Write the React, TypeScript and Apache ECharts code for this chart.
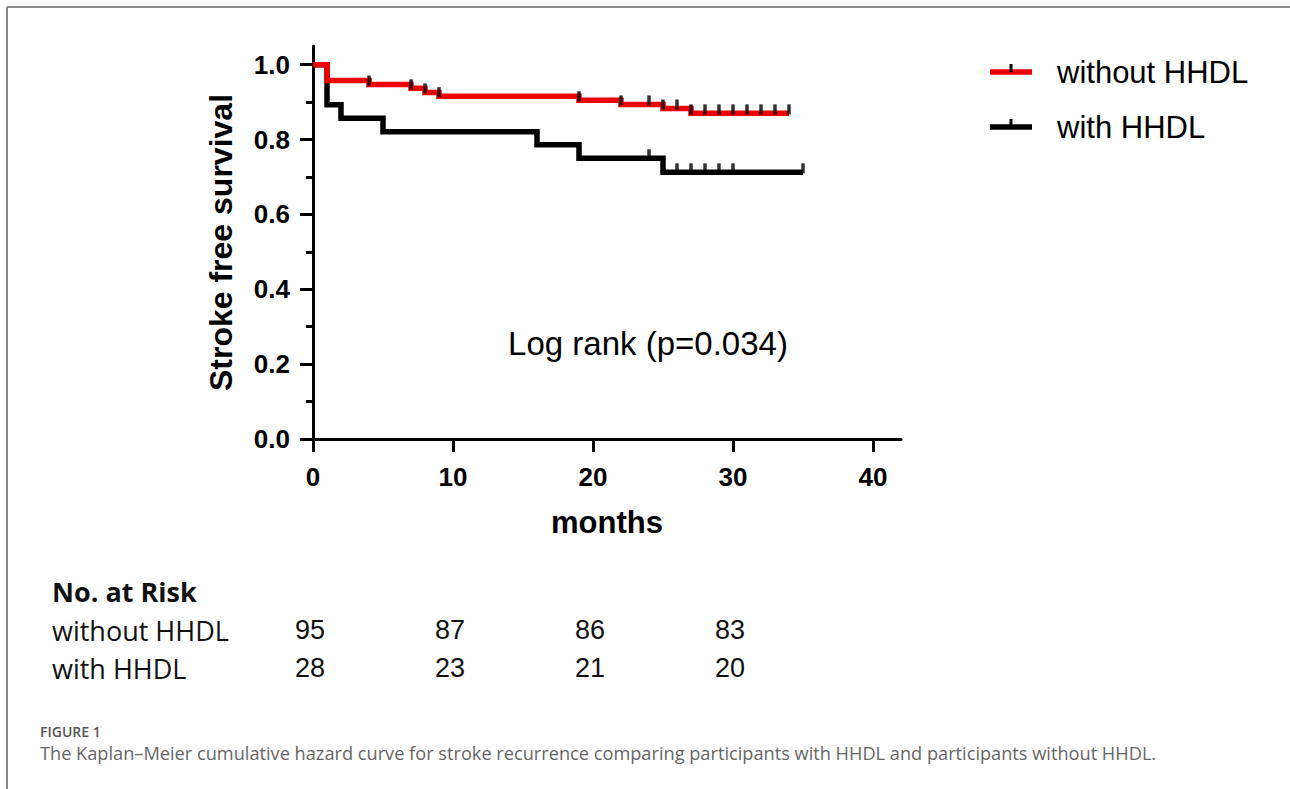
import React, { useEffect, useRef } from "react";
import * as echarts from "echarts";

// Kaplan–Meier step data (time in months, survival after the step)
const withoutTimes = [0, 1, 4, 7, 8, 9, 19, 22, 25, 27, 34];
const withoutSurv = [1, 0.958, 0.947, 0.937, 0.926, 0.916, 0.905, 0.894, 0.883, 0.87, 0.87];
const withoutCensored = [4, 7, 8, 9, 19, 22, 24, 25, 26, 27, 28, 29, 30, 31, 32, 33, 34];

const withTimes = [0, 1, 2, 5, 16, 19, 25, 35];
const withSurv = [1, 0.893, 0.857, 0.821, 0.786, 0.75, 0.7125, 0.7125];
const withCensored = [24, 26, 27, 28, 29, 30, 35];

const xTicks = [0, 10, 20, 30, 40];
const yTicks = [0, 0.2, 0.4, 0.6, 0.8, 1.0];
const yMinorTicks = [0.1, 0.3, 0.5, 0.7, 0.9];

const seriesNames = ["without HHDL", "with HHDL"];
const seriesColors = ["#ee0000", "#000000"];

const riskTimes = [0, 10, 20, 30];
const riskWithout = [95, 87, 86, 83];
const riskWith = [28, 23, 21, 20];

const axisFont = 'Arial, "Liberation Sans", sans-serif';
const tableFont = '"Open Sans", "Noto Sans", sans-serif';

function survAt(times: number[], surv: number[], t: number) {
  let v = surv[0];
  for (let i = 0; i < times.length; i++) if (times[i] <= t) v = surv[i];
  return v;
}

export default function App() {
  const ref = useRef<HTMLDivElement>(null);
  useEffect(() => {
    if (!ref.current) return;
    const chart = echarts.init(ref.current, undefined, { renderer: "svg" });
    const withoutData = withoutTimes.map((t, i) => [t, withoutSurv[i]]);
    const withData = withTimes.map((t, i) => [t, withSurv[i]]);
    const withoutCens = withoutCensored.map((t) => [t, survAt(withoutTimes, withoutSurv, t)]);
    const withCens = withCensored.map((t) => [t, survAt(withTimes, withSurv, t)]);

    chart.setOption({
      animation: false,
      backgroundColor: "#ffffff",
      grid: { left: 313, top: 46, width: 588, height: 393 },
      xAxis: {
        type: "value",
        min: 0,
        max: 42,
        name: "months",
        nameLocation: "middle",
        nameGap: 68,
        nameTextStyle: { fontSize: 31, fontWeight: "bold", color: "#000", fontFamily: axisFont },
        axisLine: { lineStyle: { color: "#000", width: 3 } },
        axisTick: { customValues: xTicks, length: 13, lineStyle: { color: "#000", width: 3 } },
        axisLabel: {
          customValues: xTicks,
          fontSize: 26,
          fontWeight: "bold",
          color: "#000",
          fontFamily: axisFont,
          margin: 25,
        },
        splitLine: { show: false },
      },
      yAxis: [
        {
          type: "value",
          min: 0,
          max: 1.05,
          name: "Stroke free survival",
          nameLocation: "middle",
          nameGap: 76,
          nameTextStyle: { fontSize: 32, fontWeight: "bold", color: "#000", fontFamily: axisFont },
          axisLine: { show: true, lineStyle: { color: "#000", width: 3 } },
          axisTick: { show: true, customValues: yTicks, length: 13, lineStyle: { color: "#000", width: 3 } },
          axisLabel: {
            customValues: yTicks,
            formatter: (v: number) => v.toFixed(1),
            fontSize: 26,
            fontWeight: "bold",
            color: "#000",
            fontFamily: axisFont,
            margin: 23,
          },
          splitLine: { show: false },
        },
        {
          type: "value",
          min: 0,
          max: 1.05,
          position: "left",
          offset: 0,
          axisLine: { show: false },
          axisTick: { show: true, customValues: yMinorTicks, length: 7, lineStyle: { color: "#000", width: 3 } },
          axisLabel: { show: false },
          splitLine: { show: false },
        },
      ],
      series: [
        {
          name: seriesNames[1],
          type: "line",
          step: "end",
          data: withData,
          symbol: "none",
          lineStyle: { color: seriesColors[1], width: 5.5, join: "miter" },
          z: 2,
        },
        {
          name: seriesNames[0],
          type: "line",
          step: "end",
          data: withoutData,
          symbol: "none",
          lineStyle: { color: seriesColors[0], width: 5.5, join: "miter" },
          z: 3,
        },
        {
          name: seriesNames[1] + " censored",
          type: "scatter",
          data: withCens,
          symbol: "rect",
          symbolSize: [3.5, 10],
          symbolOffset: [0, -4],
          itemStyle: { color: "#000" },
          z: 4,
        },
        {
          name: seriesNames[0] + " censored",
          type: "scatter",
          data: withoutCens,
          symbol: "rect",
          symbolSize: [3.5, 10],
          symbolOffset: [0, -4],
          itemStyle: { color: "#000" },
          z: 4,
        },
      ],
    });

    const xPix = riskTimes.map((t) => chart.convertToPixel({ xAxisIndex: 0 }, t) as number);
    const graphic: any[] = [];
    // frame
    graphic.push({ type: "line", shape: { x1: 7, y1: 7, x2: 1290, y2: 7 }, style: { stroke: "#8a8a8a", lineWidth: 2 } });
    graphic.push({ type: "line", shape: { x1: 7, y1: 7, x2: 7, y2: 789 }, style: { stroke: "#8a8a8a", lineWidth: 2 } });
    // legend
    seriesNames.forEach((name, i) => {
      const y = 72 + 55 * i;
      graphic.push({ type: "rect", shape: { x: 990, y: y - 2.75, width: 42, height: 5.5 }, style: { fill: seriesColors[i] } });
      graphic.push({ type: "rect", shape: { x: 1009.5, y: y - 8, width: 3, height: 8 }, style: { fill: "#000" } });
      graphic.push({
        type: "text",
        x: 1057,
        y,
        style: { text: name, fontSize: 31, fontFamily: axisFont, fill: "#000", verticalAlign: "middle", align: "left" },
      });
    });
    // log rank
    graphic.push({
      type: "text",
      x: 648,
      y: 343,
      style: { text: "Log rank (p=0.034)", fontSize: 33, fontFamily: axisFont, fill: "#000", align: "center", verticalAlign: "middle" },
    });
    // risk table
    graphic.push({
      type: "text",
      x: 52,
      y: 591,
      style: { text: "No. at Risk", fontSize: 27, fontWeight: "bold", fontFamily: tableFont, fill: "#111", verticalAlign: "middle" },
    });
    const rows = [riskWithout, riskWith];
    rows.forEach((vals, r) => {
      const y = 630 + 38 * r;
      graphic.push({
        type: "text",
        x: 52,
        y,
        style: { text: seriesNames[r], fontSize: 27, fontFamily: tableFont, fill: "#111", verticalAlign: "middle" },
      });
      vals.forEach((v, k) => {
        graphic.push({
          type: "text",
          x: xPix[k] - 3,
          y,
          style: { text: String(v), fontSize: 27, fontFamily: axisFont, fill: "#111", align: "center", verticalAlign: "middle" },
        });
      });
    });
    // caption
    graphic.push({
      type: "text",
      x: 40,
      y: 731,
      style: { text: "FIGURE 1", fontSize: 14, fontWeight: 600, fontFamily: tableFont, fill: "#555", verticalAlign: "middle" },
    });
    graphic.push({
      type: "text",
      x: 40,
      y: 753,
      style: {
        text: "The Kaplan–Meier cumulative hazard curve for stroke recurrence comparing participants with HHDL and participants without HHDL.",
        fontSize: 18.2,
        fontFamily: tableFont,
        fill: "#666",
        verticalAlign: "middle",
      },
    });
    chart.setOption({ graphic });

    return () => chart.dispose();
  }, []);
  return <div ref={ref} style={{ position: "fixed", left: 0, top: 0, width: 1290, height: 789 }} />;
}
